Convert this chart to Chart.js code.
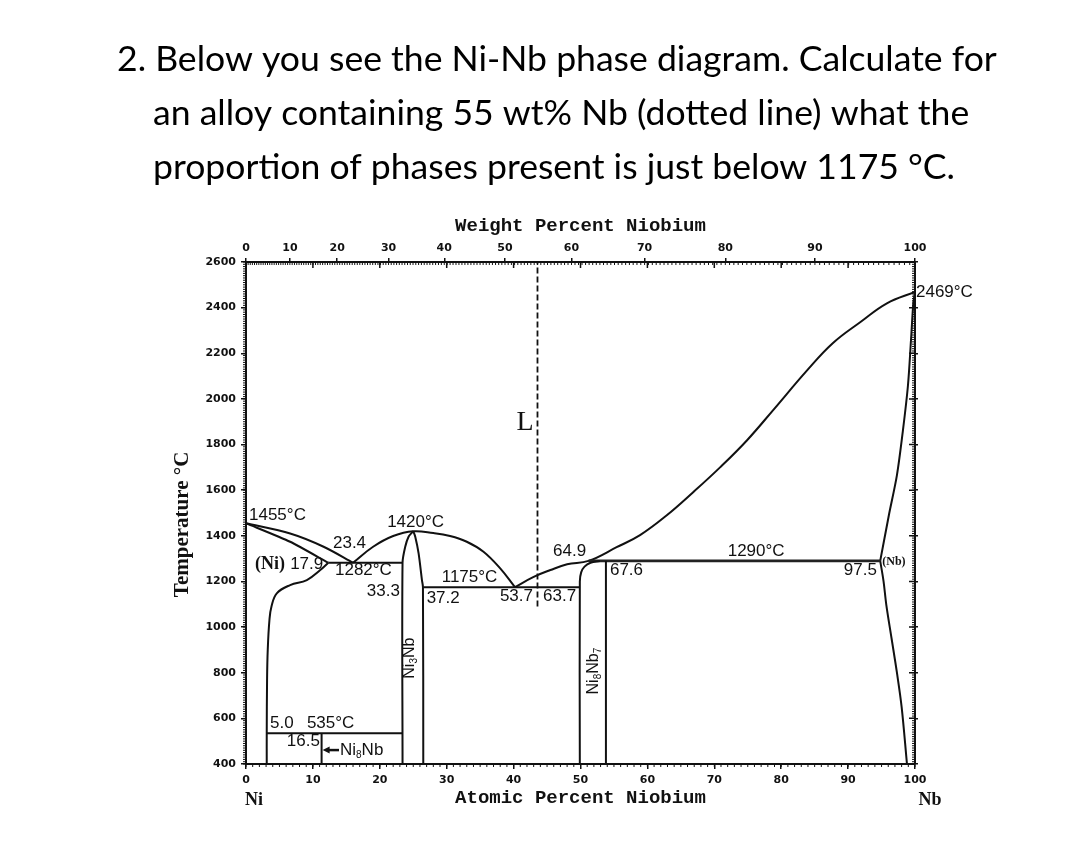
<!DOCTYPE html>
<html>
<head>
<meta charset="utf-8">
<script src="https://cdn.jsdelivr.net/npm/chart.js@4"></script>
<style>
html,body{margin:0;padding:0;background:#fff;}
canvas{display:block;}
</style>
</head>
<body>
<canvas id="c" width="1080" height="865"></canvas>
<script>
// ---------- data (atomic % Nb, temperature °C) ----------
const weightTicks = [0,10,20,30,40,50,60,70,80,90,100];
const atomicTicksStep = 10;
const tempMin = 400, tempMax = 2600, tempStep = 200;

const niLiquidus   = [[0,1455],[6.6,1410],[11.6,1352],[16.0,1282]];
const niSolidus    = [[0,1455],[6.6,1374],[12.3,1282]];
const niSolvus     = [[12.3,1282],[11.1,1250],[9.1,1206],[6.6,1184],[4.6,1148],[3.8,1089],[3.5,1030],[3.25,900],[3.15,770],[3.1,535],[3.1,400]];
const eutectic1282 = [[12.3,1282],[23.4,1282]];
const ni3NbLeft    = [[23.4,400],[23.4,1282],[23.8,1352],[24.3,1396],[25.0,1420]];
const ni3NbRight   = [[25.0,1420],[25.3,1396],[25.8,1323],[26.3,1206],[26.45,1175],[26.5,400]];
const liquidusMid  = [[16.0,1282],[19.0,1352],[22.0,1399],[25.0,1420],[28.0,1412],[30.5,1399],[33.0,1374],[35.5,1330],[38.0,1257],[40.2,1175]];
const eutectic1175 = [[26.5,1175],[49.9,1175]];
const ni8Nb7Left   = [[49.9,400],[49.9,1200],[50.1,1240],[50.6,1265],[51.5,1282],[52.9,1290]];
const ni8Nb7Right  = [[53.8,400],[53.8,1290]];
const peritectic1290 = [[51.2,1290],[94.8,1290]];
const liquidusNb   = [[40.2,1175],[43,1220],[45.5,1250],[48,1275],[51.2,1290],[55.4,1350],[58.9,1403],[62.9,1490],[66.8,1590],[70.9,1701],[74.9,1819],[78.8,1951],[83.9,2126],[87.7,2244],[91.8,2336],[95.8,2419],[100,2469]];
const nbSolidus    = [[94.8,1290],[96.1,1491],[97.3,1666],[98.2,1863],[98.95,2060],[99.4,2257],[99.75,2420],[100,2469]];
const nbSolvus     = [[94.8,1290],[95.3,1200],[95.7,1100],[96.5,950],[97.3,800],[98.0,650],[98.8,400]];
const eutectoid535 = [[3.1,535],[23.4,535]];
const ni8NbLine    = [[11.3,400],[11.3,535]];
const alloyWt = 55;
const alloyTemps = [1090, 2600];

// text annotations placed in data coordinates
const annotations = [
  {t:'1455°C', x:0.45, y:1491, a:'left'},
  {t:'23.4',   x:13.0, y:1369, a:'left'},
  {t:'17.9',   x:6.6,  y:1276, a:'left'},
  {t:'1282°C', x:13.3, y:1247, a:'left'},
  {t:'1420°C', x:21.1, y:1457, a:'left'},
  {t:'33.3',   x:23.0, y:1155, a:'right'},
  {t:'1175°C', x:29.25,y:1220, a:'left'},
  {t:'37.2',   x:27.0, y:1126, a:'left'},
  {t:'53.7',   x:42.9, y:1133, a:'right'},
  {t:'63.7',   x:44.4, y:1133, a:'left'},
  {t:'64.9',   x:45.9, y:1334, a:'left'},
  {t:'67.6',   x:54.4, y:1250, a:'left'},
  {t:'1290°C', x:72.0, y:1333, a:'left'},
  {t:'97.5',   x:94.3, y:1250, a:'right'},
  {t:'2469°C', x:100.15,y:2469, a:'left'},
  {t:'5.0',    x:3.6,  y:578,  a:'left'},
  {t:'535°C',  x:9.1,  y:578,  a:'left'},
  {t:'16.5',   x:11.05,y:498,  a:'right'}
];
const titleLines = [
  '2. Below you see the Ni-Nb phase diagram. Calculate for',
  'an alloy containing 55 wt% Nb (dotted line) what the',
  'proportion of phases present is just below 1175 °C.'
];

function atFromWt(w){
  const nb = w/92.906, ni = (100-w)/58.693;
  return w<=0 ? 0 : (w>=100 ? 100 : nb/(nb+ni)*100);
}
const pts = arr => arr.map(p => ({x:p[0], y:p[1]}));
const LINE = '#111';

function ds(arr, opts){
  return Object.assign({data:pts(arr), showLine:true, borderColor:LINE, borderWidth:2,
    pointRadius:0, tension:0, fill:false}, opts||{});
}
const alloyAt = atFromWt(alloyWt);
const datasets = [
  ds(niLiquidus,{tension:0.3}),
  ds(niSolidus,{tension:0.2}),
  ds(niSolvus,{tension:0.4}),
  ds(eutectic1282),
  ds(ni3NbLeft,{tension:0.3}),
  ds(ni3NbRight,{tension:0.3}),
  ds(liquidusMid,{tension:0.4}),
  ds(eutectic1175),
  ds(ni8Nb7Left,{tension:0.35}),
  ds(ni8Nb7Right),
  ds(peritectic1290,{borderWidth:2.6, borderColor:'#222'}),
  ds(liquidusNb,{tension:0.4}),
  ds(nbSolidus,{tension:0.3}),
  ds(nbSolvus,{tension:0.35}),
  ds(eutectoid535),
  ds(ni8NbLine),
  ds(alloyTemps.map(t=>[alloyAt,t]),{borderWidth:1.8, borderDash:[6,3]})
];

function drawParts(ctx, parts, size, family){
  let w = 0;
  parts.forEach(p=>{
    ctx.font = (p[1]? Math.round(size*0.6):size)+'px '+family;
    w += ctx.measureText(p[0]).width;
  });
  return w;
}
function renderParts(ctx, parts, x, y, size, family){
  let cx = x;
  parts.forEach(p=>{
    const s = p[1]? Math.round(size*0.6):size;
    ctx.font = s+'px '+family;
    ctx.fillText(p[0], cx, p[1]? y+size*0.3 : y);
    cx += ctx.measureText(p[0]).width;
  });
}

const decor = {
  id:'decor',
  afterDraw(chart){
    const ctx = chart.ctx;
    const xs = chart.scales.x, ys = chart.scales.y;
    const ca = chart.chartArea;
    ctx.save();
    ctx.strokeStyle = '#111';
    ctx.fillStyle = '#111';
    ctx.lineWidth = 1;
    // minor ticks
    ctx.beginPath();
    for(let a=0;a<=100;a+=1){ const px=xs.getPixelForValue(a); ctx.moveTo(px,ca.bottom); ctx.lineTo(px,ca.bottom+3); }
    for(let w=0;w<=100;w+=0.5){ const px=xs.getPixelForValue(atFromWt(w)); ctx.moveTo(px,ca.top); ctx.lineTo(px,ca.top+3); }
    for(let t=tempMin;t<=tempMax;t+=10){ const py=ys.getPixelForValue(t); ctx.moveTo(ca.left,py); ctx.lineTo(ca.left-3,py); ctx.moveTo(ca.right,py); ctx.lineTo(ca.right-3,py); }
    ctx.stroke();
    ctx.lineWidth = 1.5;
    ctx.beginPath();
    for(let a=10;a<100;a+=atomicTicksStep){ const px=xs.getPixelForValue(a); ctx.moveTo(px,ca.top); ctx.lineTo(px,ca.top+6); }
    for(let t=tempMin+tempStep;t<tempMax;t+=tempStep){ const py=ys.getPixelForValue(t); ctx.moveTo(ca.right,py); ctx.lineTo(ca.right-6,py); }
    ctx.stroke();

    // annotations
    ctx.textBaseline = 'middle';
    ctx.font = '17px "Liberation Sans", Arial, sans-serif';
    annotations.forEach(an=>{
      ctx.textAlign = an.a;
      ctx.fillText(an.t, xs.getPixelForValue(an.x), ys.getPixelForValue(an.y));
    });
    ctx.textAlign = 'left';
    ctx.font = 'bold 18px "Liberation Serif", serif';
    ctx.fillText('(Ni)', xs.getPixelForValue(1.35), ys.getPixelForValue(1276));
    ctx.font = 'bold 12px "Liberation Serif", serif';
    ctx.fillText('(Nb)', xs.getPixelForValue(95.1), ys.getPixelForValue(1286));
    ctx.textAlign = 'center';
    ctx.font = '28px "Liberation Serif", serif';
    ctx.fillText('L', xs.getPixelForValue(41.7), ys.getPixelForValue(1894));

    // Ni8Nb with arrow
    ctx.textAlign = 'left';
    const fam = '"Liberation Sans", Arial, sans-serif';
    renderParts(ctx, [['Ni',0],['8',1],['Nb',0]], xs.getPixelForValue(14.05), ys.getPixelForValue(461), 17, fam);
    const ay = ys.getPixelForValue(461);
    const ax0 = xs.getPixelForValue(13.9), ax1 = xs.getPixelForValue(11.45);
    ctx.lineWidth = 2.5;
    ctx.beginPath(); ctx.moveTo(ax0, ay); ctx.lineTo(ax1+5, ay); ctx.stroke();
    ctx.beginPath(); ctx.moveTo(ax1, ay); ctx.lineTo(ax1+7, ay-3.5); ctx.lineTo(ax1+7, ay+3.5); ctx.closePath(); ctx.fill();

    // rotated phase names
    function rotParts(parts, x, y){
      const cx = xs.getPixelForValue(x), cy = ys.getPixelForValue(y);
      ctx.save(); ctx.translate(cx, cy); ctx.rotate(-Math.PI/2);
      const w = drawParts(ctx, parts, 16, fam);
      renderParts(ctx, parts, -w/2, 0, 16, fam);
      ctx.restore();
    }
    rotParts([['Ni',0],['3',1],['Nb',0]], 24.5, 864);
    rotParts([['Ni',0],['8',1],['Nb',0],['7',1]], 51.9, 807);

    // axis titles
    ctx.textAlign = 'center';
    ctx.font = 'bold 19px "Liberation Mono", monospace';
    ctx.fillText('Weight Percent Niobium', (ca.left+ca.right)/2, ca.top-36);
    ctx.fillText('Atomic Percent Niobium', (ca.left+ca.right)/2, ca.bottom+34);
    ctx.font = 'bold 18px "Liberation Serif", serif';
    ctx.textAlign = 'left';
    ctx.fillText('Ni', ca.left-1, ca.bottom+36);
    ctx.textAlign = 'center';
    ctx.fillText('Nb', ca.right+15, ca.bottom+36);
    ctx.save();
    ctx.translate(ca.left-63, ys.getPixelForValue(1450));
    ctx.rotate(-Math.PI/2);
    ctx.font = 'bold 21px "Liberation Serif", serif';
    ctx.fillText('Temperature °C', 0, 0);
    ctx.restore();

    // question title
    ctx.fillStyle = '#000';
    ctx.textAlign = 'left';
    ctx.textBaseline = 'alphabetic';
    ctx.font = '40px Lato, sans-serif';
    const w1 = ctx.measureText(titleLines[0]).width;
    const size = 40 * 880 / w1;
    ctx.font = size.toFixed(2)+'px Lato, sans-serif';
    ctx.fillText(titleLines[0], 117, 71);
    ctx.fillText(titleLines[1], 153, 125);
    ctx.fillText(titleLines[2], 153, 179);
    ctx.restore();
  }
};

const tickFont = {family:'"DejaVu Sans", sans-serif', size:11, weight:'bold'};
const common = {
  grid:{drawOnChartArea:false, drawTicks:true, tickLength:5, color:'#111', lineWidth:1.5},
  border:{display:true, color:'#111', width:2}
};
new Chart(document.getElementById('c'), {
  type:'scatter',
  data:{datasets},
  options:{
    responsive:false, animation:false, devicePixelRatio:1,
    layout:{padding:0},
    plugins:{legend:{display:false}, tooltip:{enabled:false}},
    scales:{
      x:Object.assign({}, common, {type:'linear', position:'bottom', min:0, max:100,
        ticks:{stepSize:atomicTicksStep, font:tickFont, color:'#111', padding:5, maxRotation:0, autoSkip:false,
          callback:v=>String(v)},
        afterFit(s){ s.height = 101; }}),
      xTop:Object.assign({}, common, {type:'linear', position:'top', min:0, max:100,
        grid:{drawOnChartArea:false, drawTicks:true, tickLength:4, color:'#111', lineWidth:1.5},
        afterBuildTicks(s){ s.ticks = weightTicks.map(w=>({value:atFromWt(w)})); },
        ticks:{font:tickFont, color:'#111', padding:3, maxRotation:0, autoSkip:false,
          callback:(v,i)=>String(weightTicks[i])},
        afterFit(s){ s.height = 262; }}),
      y:Object.assign({}, common, {type:'linear', position:'left', min:tempMin, max:tempMax,
        ticks:{stepSize:tempStep, font:tickFont, color:'#111', padding:5, callback:v=>String(v)},
        afterFit(s){ s.width = 246; }}),
      yRight:Object.assign({}, common, {type:'linear', position:'right', min:tempMin, max:tempMax,
        grid:{drawOnChartArea:false, drawTicks:true, tickLength:3, color:'#111', lineWidth:1.5},
        ticks:{stepSize:tempStep, callback:()=>''},
        afterFit(s){ s.width = 165; }})
    }
  },
  plugins:[decor]
});
</script>
</body>
</html>
